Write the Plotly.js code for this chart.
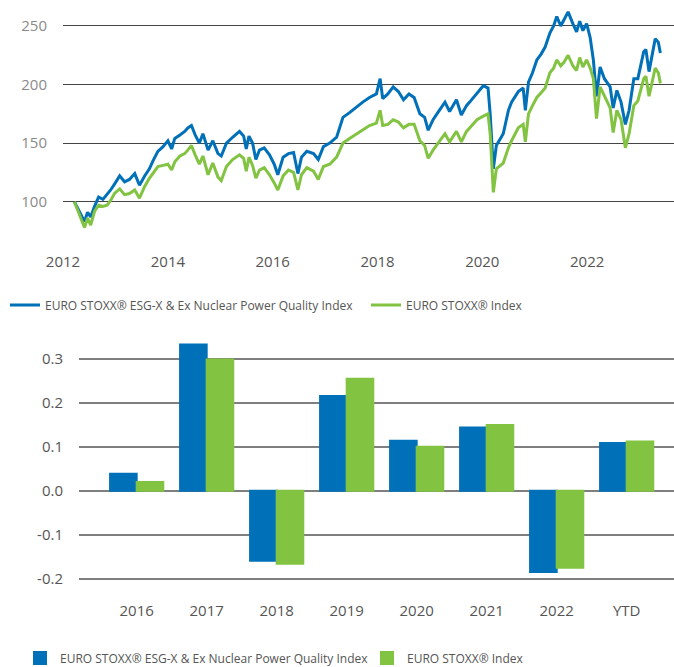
<!DOCTYPE html>
<html>
<head>
<meta charset="utf-8">
<script src="https://cdn.plot.ly/plotly-3.0.1.min.js"></script>
<style>html,body{margin:0;padding:0;background:#fff;}#chart{width:674px;height:667px;}</style>
</head>
<body>
<div id="chart"></div>
<script>
// ---- Line chart data (index levels) ----
const lineDates = [
'2012-03-20','2012-04-20','2012-05-10','2012-05-30','2012-06-20','2012-07-12','2012-08-08','2012-09-05','2012-10-05','2012-11-03',
'2012-11-28','2012-12-25','2013-01-30','2013-03-05','2013-04-08','2013-05-15','2013-06-17','2013-07-23','2013-08-25','2013-09-20',
'2013-10-23','2013-11-28','2014-01-01','2014-01-27','2014-02-18','2014-03-26','2014-04-28','2014-05-20','2014-06-14','2014-07-10',
'2014-08-08','2014-09-02','2014-10-08','2014-11-10','2014-12-16','2015-01-08','2015-02-13','2015-03-28','2015-05-15','2015-06-13',
'2015-07-01','2015-07-20','2015-08-14','2015-09-06','2015-10-01','2015-11-03','2015-12-10','2016-01-12','2016-02-06','2016-03-14',
'2016-04-20','2016-05-26','2016-06-25','2016-07-20','2016-08-26','2016-10-12','2016-11-14','2016-12-20','2017-02-02','2017-03-22',
'2017-05-05','2017-06-20','2017-08-08','2017-09-20','2017-11-06','2017-12-24','2018-01-19','2018-02-06','2018-03-14','2018-04-20',
'2018-05-26','2018-07-01','2018-08-08','2018-09-13','2018-10-23','2018-11-25','2018-12-20','2019-01-23','2019-02-25','2019-04-16',
'2019-05-18','2019-07-05','2019-08-08','2019-09-13','2019-10-05','2019-11-25','2020-01-08','2020-02-10','2020-02-25','2020-03-18',
'2020-04-08','2020-05-26','2020-07-01','2020-07-23','2020-09-08','2020-10-12','2020-10-27','2020-11-18','2020-12-16','2021-01-15',
'2021-02-14','2021-03-14','2021-04-16','2021-05-12','2021-06-03','2021-07-01','2021-07-23','2021-08-21','2021-09-23','2021-10-19',
'2021-11-10','2021-12-02','2021-12-28','2022-01-22','2022-02-13','2022-03-07','2022-04-01','2022-05-01','2022-06-10','2022-07-01',
'2022-07-27','2022-08-25','2022-09-24','2022-10-20','2022-11-22','2022-12-20','2023-01-30','2023-02-14','2023-03-08','2023-04-20',
'2023-05-12','2023-05-26'
];
const esgIndex = [
100,92,88,83,91,87,96,104,102,106,
110,115,122,117,119,124,114,122,128,135,
143,147,152,145,154,157,160,163,165,157,
150,158,144,152,141,139,150,155,160,156,
145,156,150,136,144,146,140,132,123,138,
141,142,124,138,143,141,136,147,150,155,
172,176,181,185,189,192,205,188,192,198,
194,187,192,189,175,172,161,170,176,185,
177,187,174,182,185,192,199,197,175,128,
148,158,178,185,194,197,178,202,210,221,
226,232,244,250,258,250,255,262,252,245,
254,246,252,240,221,190,215,205,198,180,
195,185,166,178,205,205,228,230,211,239,
236,227
];
const euroStoxx = [
100,90,85,78,86,80,92,97,96,97,
101,107,111,106,107,110,103,113,120,124,
130,131,132,127,134,139,141,144,148,140,
132,139,123,133,121,118,130,136,140,137,
126,138,131,120,127,129,123,116,110,122,
127,125,110,123,129,126,119,130,132,138,
150,154,158,161,165,167,178,165,166,170,
168,163,166,166,152,148,137,144,150,158,
151,160,151,160,163,170,173,175,158,108,
128,133,146,152,163,166,151,175,182,189,
193,197,210,214,221,216,219,225,216,212,
223,215,221,214,205,171,198,190,180,159,
178,170,146,158,182,186,205,207,190,214,
210,201
];
const lineYTicks = [100, 150, 200, 250];
const lineXTickVals = ['2012-01-01','2014-01-01','2016-01-01','2018-01-01','2020-01-01','2022-01-01'];
const lineXTickText = ['2012','2014','2016','2018','2020','2022'];

// ---- Bar chart data (annual returns) ----
const barCategories = ['2016','2017','2018','2019','2020','2021','2022','YTD'];
const esgReturns = [0.039, 0.333, -0.159, 0.216, 0.114, 0.144, -0.185, 0.109];
const stoxxReturns = [0.020, 0.299, -0.166, 0.255, 0.100, 0.150, -0.175, 0.112];
const barYTicks = [-0.2, -0.1, 0.0, 0.1, 0.2, 0.3];
const barYTickText = ['-0.2', '-0.1', '0.0', '0.1', '0.2', '0.3'];

const nameESG = 'EURO STOXX® ESG-X & Ex Nuclear Power Quality Index';
const nameStoxx = 'EURO STOXX® Index';

const BLUE = '#0070b8';
const GREEN = '#82c341';
const FONT = '"Open Sans", "Noto Sans", sans-serif';

const traces = [
  {type:'scatter', mode:'lines', x: lineDates, y: esgIndex, name: nameESG, legendwidth: 316,
   line:{color: BLUE, width: 3}, xaxis:'x', yaxis:'y', legend:'legend', hoverinfo:'skip'},
  {type:'scatter', mode:'lines', x: lineDates, y: euroStoxx, name: nameStoxx,
   line:{color: GREEN, width: 3}, xaxis:'x', yaxis:'y', legend:'legend', hoverinfo:'skip'},
  {type:'bar', x: barCategories, y: esgReturns, name: nameESG, legendwidth: 302,
   marker:{color: BLUE, line:{color: BLUE, width: 2}}, xaxis:'x2', yaxis:'y2', legend:'legend2'},
  {type:'bar', x: barCategories, y: stoxxReturns, name: nameStoxx,
   marker:{color: GREEN, line:{color: GREEN, width: 2}}, xaxis:'x2', yaxis:'y2', legend:'legend2'}
];

const W = 674, H = 667;
const py = px => 1 - px / H;

const layout = {
  width: W, height: H,
  margin: {l:0, r:0, t:0, b:0, autoexpand: false},
  paper_bgcolor: '#fff', plot_bgcolor: '#fff',
  font: {family: FONT, size: 15, color: '#555'},
  showlegend: true,
  barmode: 'group', bargap: 0.24, bargroupgap: 0,
  xaxis: {
    domain: [63/W, 1], anchor: 'y', type: 'date',
    range: ['2012-01-01', '2023-08-29'],
    tickmode: 'array', tickvals: lineXTickVals, ticktext: lineXTickText,
    showgrid: false, zeroline: false, showline: false, ticks: '',
    tickfont: {size: 15, color: '#555'}, fixedrange: true
  },
  yaxis: {
    domain: [py(251), py(5)], anchor: 'x',
    range: [57.9, 267.9],
    tickmode: 'array', tickvals: lineYTicks,
    showgrid: true, gridcolor: '#444', gridwidth: 1,
    zeroline: false, showline: false,
    ticks: 'outside', ticklen: 12, tickcolor: 'rgba(0,0,0,0)',
    tickfont: {size: 15, color: '#8a8a8a'}, fixedrange: true
  },
  xaxis2: {
    domain: [79/W, 1], anchor: 'y2', type: 'category',
    range: [-0.824, 7.676],
    showgrid: false, zeroline: false, showline: false, ticks: '',
    tickfont: {size: 15, color: '#555'}, fixedrange: true
  },
  yaxis2: {
    domain: [py(600), py(335)], anchor: 'x2',
    range: [-0.2485, 0.3546],
    tickmode: 'array', tickvals: barYTicks, ticktext: barYTickText,
    showgrid: true, gridcolor: '#7f7f7f', gridwidth: 2,
    zeroline: false, showline: false,
    ticks: 'outside', ticklen: 12, tickcolor: 'rgba(0,0,0,0)',
    tickfont: {size: 15, color: '#555'}, fixedrange: true
  },
  legend: {
    orientation: 'h', x: 5/W, xanchor: 'left', y: py(305), yanchor: 'middle',
    font: {size: 12, color: '#555', family: FONT}, bgcolor: 'rgba(0,0,0,0)'
  },
  legend2: {
    orientation: 'h', x: 20/W, xanchor: 'left', y: py(658), yanchor: 'middle',
    font: {size: 12, color: '#555', family: FONT}, bgcolor: 'rgba(0,0,0,0)'
  }
};

Plotly.newPlot('chart', traces, layout, {displayModeBar: false, staticPlot: true});
</script>
</body>
</html>
